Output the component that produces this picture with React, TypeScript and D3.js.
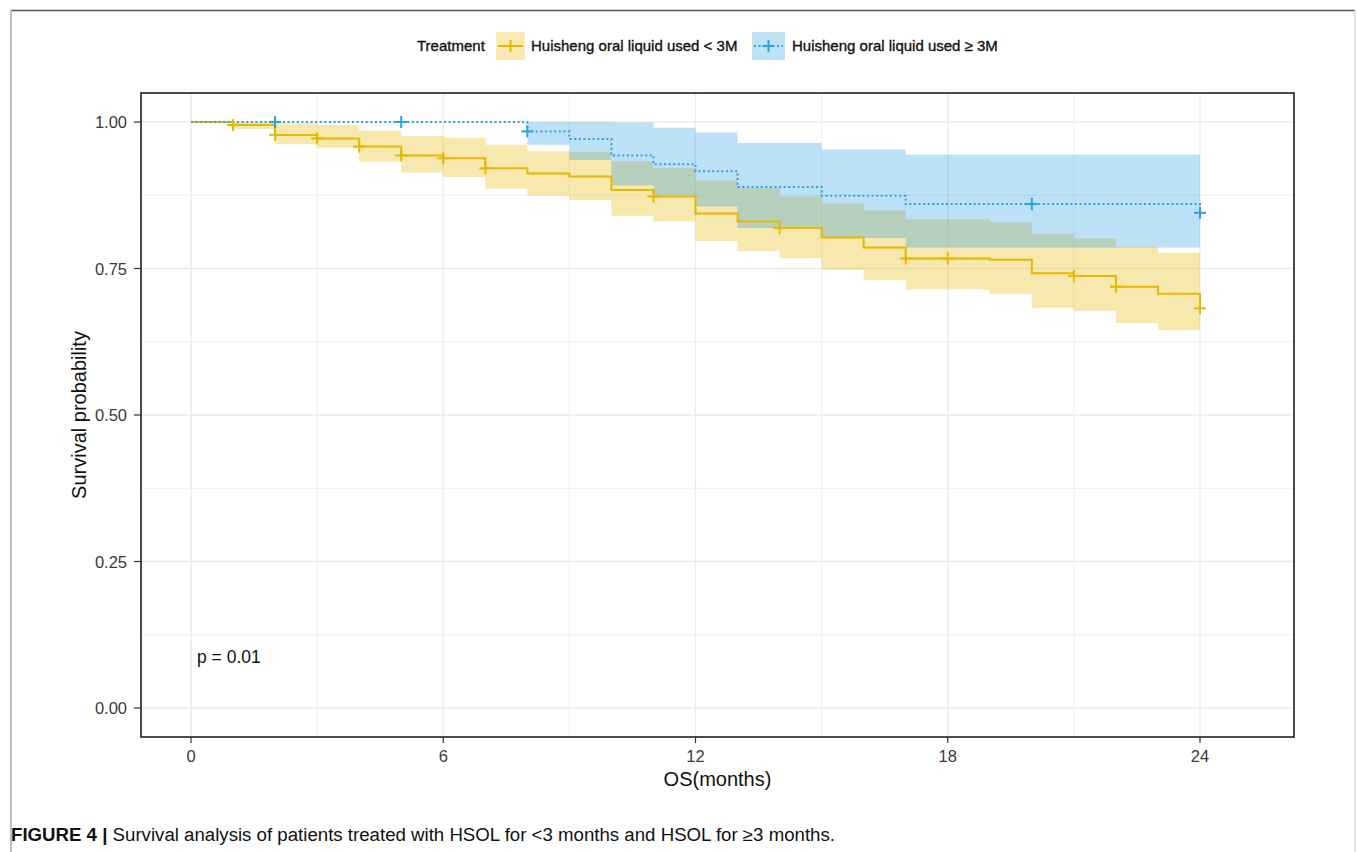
import * as d3 from "d3";

// group: Huisheng oral liquid used < 3M
const lowTimes = [0, 1, 2, 3, 4, 5, 6, 7, 8, 9, 10, 11, 12, 13, 14, 15, 16, 17, 19, 20, 21, 22, 23, 24];
const lowSurv = [1, 0.995, 0.978, 0.972, 0.958, 0.943, 0.938, 0.921, 0.912, 0.907, 0.884, 0.873, 0.844, 0.83, 0.819, 0.803, 0.786, 0.767, 0.765, 0.742, 0.737, 0.719, 0.707, 0.682];
const lowUpper = [1, 1, 0.998, 0.995, 0.985, 0.976, 0.973, 0.961, 0.95, 0.949, 0.933, 0.921, 0.9, 0.888, 0.873, 0.861, 0.849, 0.834, 0.829, 0.809, 0.801, 0.787, 0.777, 0.75];
const lowLower = [1, 0.988, 0.962, 0.955, 0.932, 0.914, 0.906, 0.886, 0.874, 0.867, 0.84, 0.83, 0.797, 0.78, 0.768, 0.748, 0.73, 0.714, 0.707, 0.682, 0.678, 0.657, 0.645, 0.62];
const lowCensor = [1, 2, 3, 4, 5, 6, 7, 11, 14, 17, 18, 21, 22, 24];

// group: Huisheng oral liquid used >= 3M
const highTimes = [0, 8, 9, 10, 11, 12, 13, 15, 17, 24];
const highSurv = [1, 0.984, 0.971, 0.943, 0.928, 0.916, 0.889, 0.874, 0.86, 0.845];
const highUpper = [1, 1, 1, 0.999, 0.99, 0.982, 0.964, 0.953, 0.944, 0.944];
const highLower = [1, 0.961, 0.935, 0.892, 0.874, 0.856, 0.819, 0.802, 0.786, 0.786];
const highCensor = [2, 5, 8, 20, 24];

const xTicks = [0, 6, 12, 18, 24];
const xMinor = [3, 9, 15, 21];
const yTicks = [0, 0.25, 0.5, 0.75, 1];
const yMinor = [0.125, 0.375, 0.625, 0.875];

const groups = [
  { name: "Huisheng oral liquid used < 3M", color: "#E7B800", dash: null, times: lowTimes, surv: lowSurv, upper: lowUpper, lower: lowLower, censor: lowCensor },
  { name: "Huisheng oral liquid used \u2265 3M", color: "#2E9FDF", dash: "2,2.6", times: highTimes, surv: highSurv, upper: highUpper, lower: highLower, censor: highCensor },
];

const W = 1357;
const H = 852;
const panel = { left: 141, right: 1294, top: 93, bottom: 737 };
const font = "'Liberation Sans', Arial, sans-serif";

const x = d3.scaleLinear().domain([0, 24]).range([191, 1200]);
const y = d3.scaleLinear().domain([0, 1]).range([708, 122]);

const survAt = (g, t) => {
  let v = 1;
  g.times.forEach((tt, i) => {
    if (tt <= t) v = g.surv[i];
  });
  return v;
};

const Plus = ({ cx, cy, color }) => (
  <g stroke={color} strokeWidth={2}>
    <line x1={cx - 6} x2={cx + 6} y1={cy} y2={cy} />
    <line x1={cx} x2={cx} y1={cy - 6} y2={cy + 6} />
  </g>
);

export default function App() {
  const line = d3.line<number>().curve(d3.curveStepAfter);
  const area = d3
    .area<[number, number, number]>()
    .x((d) => x(d[0]))
    .y0((d) => y(d[1]))
    .y1((d) => y(d[2]))
    .curve(d3.curveStepAfter);

  const legendItems = [
    { g: groups[0], box: 496, boxW: 29, text: 531 },
    { g: groups[1], box: 752, boxW: 33, text: 792 },
  ];
  // slight stroke to mimic the heavier, blurred text of the original
  const heavy = { stroke: "#111", strokeWidth: 0.35 };

  return (
    <svg width={W} height={H} style={{ position: "absolute", left: 0, top: 0 }} fontFamily={font}>
      <rect x={0} y={0} width={W} height={H} fill="#fff" />
      {/* figure frame */}
      <line x1={11} x2={1355} y1={10.5} y2={10.5} stroke="#555" strokeWidth={1.5} />
      <line x1={11} x2={11} y1={10} y2={H} stroke="#aaa" strokeWidth={1.5} />
      <line x1={1355} x2={1355} y1={10} y2={H} stroke="#ccc" strokeWidth={1} />

      {/* legend */}
      <text x={417} y={51} fontSize={15} fill="#111" {...heavy}>Treatment</text>
      {legendItems.map(({ g, box, boxW, text }) => (
        <g key={g.name}>
          <rect x={box} y={32} width={boxW} height={28} fill={g.color} fillOpacity={0.3} />
          <line x1={box + 2} x2={box + boxW - 2} y1={46} y2={46} stroke={g.color} strokeWidth={2} strokeDasharray={g.dash || undefined} />
          <Plus cx={box + boxW / 2} cy={46} color={g.color} />
          <text x={text} y={51} fontSize={15} fill="#111" {...heavy}>{g.name}</text>
        </g>
      ))}

      {/* grid */}
      <g stroke="#ebebeb">
        {yMinor.map((v) => (
          <line key={"ym" + v} x1={panel.left} x2={panel.right} y1={y(v)} y2={y(v)} strokeWidth={0.8} />
        ))}
        {xMinor.map((v) => (
          <line key={"xm" + v} x1={x(v)} x2={x(v)} y1={panel.top} y2={panel.bottom} strokeWidth={0.8} />
        ))}
        {yTicks.map((v) => (
          <line key={"y" + v} x1={panel.left} x2={panel.right} y1={y(v)} y2={y(v)} strokeWidth={1.4} />
        ))}
        {xTicks.map((v) => (
          <line key={"x" + v} x1={x(v)} x2={x(v)} y1={panel.top} y2={panel.bottom} strokeWidth={1.4} />
        ))}
      </g>

      {/* confidence bands */}
      {groups.map((g) => (
        <path
          key={"band" + g.name}
          d={area(g.times.map((t, i) => [t, g.lower[i], g.upper[i]]))}
          fill={g.color}
          fillOpacity={0.32}
        />
      ))}

      {/* survival curves */}
      {groups.map((g) => (
        <path
          key={"curve" + g.name}
          d={line(g.times.map((t, i) => [x(t), y(g.surv[i])]))}
          fill="none"
          stroke={g.color}
          strokeWidth={2}
          strokeDasharray={g.dash || undefined}
        />
      ))}

      {/* censor marks */}
      {groups.map((g) =>
        g.censor.map((t) => <Plus key={g.name + t} cx={x(t)} cy={y(survAt(g, t))} color={g.color} />)
      )}

      {/* panel border */}
      <rect
        x={panel.left}
        y={panel.top}
        width={panel.right - panel.left}
        height={panel.bottom - panel.top}
        fill="none"
        stroke="#111"
        strokeWidth={1.5}
      />

      {/* axes */}
      {yTicks.map((v) => (
        <g key={"yt" + v}>
          <line x1={panel.left - 7} x2={panel.left} y1={y(v)} y2={y(v)} stroke="#333" strokeWidth={1.2} />
          <text x={panel.left - 14} y={y(v) + 6} fontSize={16.5} textAnchor="end" fill="#3a3a3a">
            {v.toFixed(2)}
          </text>
        </g>
      ))}
      {xTicks.map((v) => (
        <g key={"xt" + v}>
          <line x1={x(v)} x2={x(v)} y1={panel.bottom} y2={panel.bottom + 6} stroke="#333" strokeWidth={1.2} />
          <text x={x(v)} y={762} fontSize={16.5} textAnchor="middle" fill="#3a3a3a">
            {v}
          </text>
        </g>
      ))}
      <text x={(panel.left + panel.right) / 2} y={786} fontSize={20} textAnchor="middle" fill="#111">
        OS(months)
      </text>
      <text
        transform={`translate(86,${(panel.top + panel.bottom) / 2}) rotate(-90)`}
        fontSize={20}
        textAnchor="middle"
        fill="#111"
      >
        Survival probability
      </text>

      <text x={197} y={663} fontSize={17.5} fill="#111">p = 0.01</text>

      {/* caption */}
      <text x={11} y={841} fontSize={18} fill="#111" textLength={824} lengthAdjust="spacingAndGlyphs">
        <tspan fontWeight="bold">FIGURE 4 |</tspan>
        <tspan> Survival analysis of patients treated with HSOL for &lt;3 months and HSOL for ≥3 months.</tspan>
      </text>
    </svg>
  );
}
